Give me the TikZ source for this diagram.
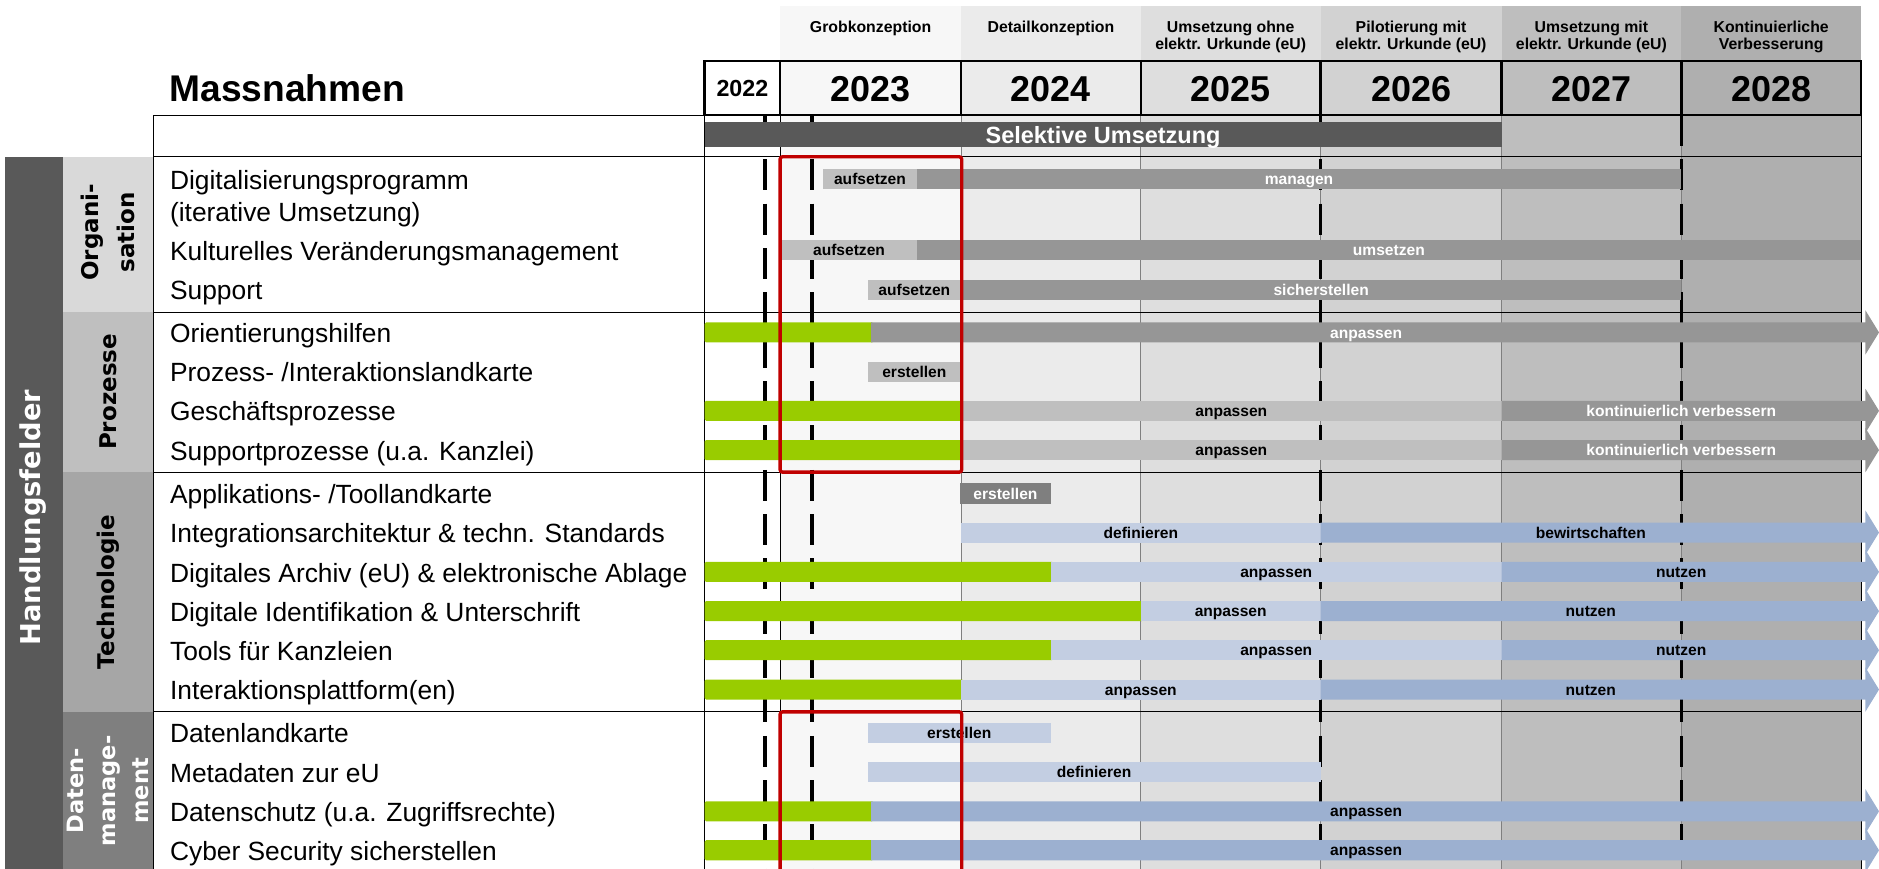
\documentclass[tikz,border=0pt]{standalone}
\usepackage{fontspec}
\setmainfont{Liberation Sans}
\newfontfamily\dvs{DejaVu Sans}
\definecolor{cA}{HTML}{F7F7F7}
\definecolor{cB}{HTML}{EBEBEB}
\definecolor{cC}{HTML}{DEDEDE}
\definecolor{cD}{HTML}{D2D2D2}
\definecolor{cE}{HTML}{BEBEBE}
\definecolor{cF}{HTML}{AFAFAF}
\definecolor{dark}{HTML}{595959}
\definecolor{lgray}{HTML}{BFBFBF}
\definecolor{mgray}{HTML}{969696}
\definecolor{dgray}{HTML}{7F7F7F}
\definecolor{lblue}{HTML}{C3CEE2}
\definecolor{mblue}{HTML}{9CB0D0}
\definecolor{grn}{HTML}{99CC00}
\definecolor{redb}{HTML}{C00000}
\definecolor{secA}{HTML}{D9D9D9}
\definecolor{secB}{HTML}{BFBFBF}
\definecolor{secC}{HTML}{A6A6A6}
\definecolor{secD}{HTML}{7F7F7F}
\newcommand\barseg[7]{%
  \fill[#5] (#2,#4-8.35) rectangle (#3,#4+8.35);
  \node[lab, text=#6] (#1) at ({(#2+#3)/2},#4+4.7) {#7};}
\newcommand\grnseg[3]{%
  \fill[grn, rounded corners=0.6pt] (#1,#3-8.35) rectangle (#2,#3+8.35);}
\newcommand\arrseg[6]{%
  \fill[#4] (#2,#3-8.35) -- (1556.7,#3-8.35) -- (1556.7,#3-18.4) -- (1568,#3) -- (1556.7,#3+18.4) -- (1556.7,#3+8.35) -- (#2,#3+8.35) -- cycle;
  \node[lab, text=#5] (#1) at ({(#2+1553)/2},#3+4.7) {#6};}
\begin{document}
\begin{tikzpicture}[x=0.5pt,y=-0.5pt,
  rowtxt/.style={anchor=base west, inner sep=0, font=\fontsize{11}{13}\selectfont},
  lab/.style={anchor=base, inner sep=0, font=\bfseries\fontsize{6.5}{7}\selectfont},
  phase/.style={anchor=base, inner sep=0, font=\bfseries\fontsize{6.6}{7}\selectfont},
  year/.style={anchor=base, inner sep=0, font=\bfseries\fontsize{15}{18}\selectfont},
  sec/.style={rotate=90, align=center, inner sep=0, font=\dvs\bfseries\fontsize{9.6}{15}\selectfont},
  thin/.style={line width=0.45pt},
  thick/.style={line width=1.1pt},
  dashline/.style={line width=1.4pt, dash pattern=on 12.9pt off 5.6pt},
  redbox/.style={draw=redb, line width=1.4pt, rounded corners=1pt}]
\useasboundingbox (0,0) rectangle (1568,725);
% column backgrounds
\fill[cA] (651,5) rectangle (802,725);
\fill[cB] (802,5) rectangle (952,725);
\fill[cC] (952,5) rectangle (1102,725);
\fill[cD] (1102,5) rectangle (1253,725);
\fill[cE] (1253,5) rectangle (1403,725);
\fill[cF] (1403,5) rectangle (1553,725);
% left labels column
\fill[dark] (4.2,130.8) rectangle (52.3,725);
\fill[secA] (52.3,130.8) rectangle (128,260.5);
\fill[secB] (52.3,260.5) rectangle (128,394);
\fill[secC] (52.3,394) rectangle (128,594);
\fill[secD] (52.3,594) rectangle (128,725);
% vertical grid lines
\draw[thin, dgray] (802,96) -- (802,725);
\draw[thin, dgray] (952,96) -- (952,725);
\draw[thin, dgray] (1102,96) -- (1102,725);
\draw[thin, dgray] (1253,96) -- (1253,725);
\draw[thin, dgray] (1403,96) -- (1403,725);
\draw[thin] (651,96) -- (651,725);
\draw[thin] (588,96) -- (588,725);
\draw[thin] (128,96) -- (128,725);
\draw[thin] (1553,96) -- (1553,725);
% horizontal lines
\draw[thin] (128,96) -- (588,96);
\draw[thin] (128,130.8) -- (1553,130.8);
\draw[thin] (128,260.5) -- (1553,260.5);
\draw[thin] (128,394) -- (1553,394);
\draw[thin] (128,594) -- (1553,594);
% dashed milestone lines
\draw[dashline] (638.5,96) -- (638.5,725);
\draw[dashline] (677.5,96) -- (677.5,725);
\draw[dashline] (1102,96) -- (1102,725);
\draw[dashline] (1403,96) -- (1403,725);
% year row
\fill[white] (588,51) rectangle (651,96);
\draw[thick] (588,51) rectangle (1553,96);
\foreach \xx in {651,802,952,1102,1253,1403} \draw[thick] (\xx,51) -- (\xx,96);
% selective bar
\fill[dark] (588,101.6) rectangle (1253,122.4);
\node[anchor=base, inner sep=0, text=white, font=\bfseries\fontsize{9.8}{11}\selectfont] (sel) at (920.5,119.4) {Selektive Umsetzung};
% header texts
\node[anchor=base west, inner sep=0, font=\bfseries\fontsize{15.5}{18}\selectfont] (mass) at (141,84.9) {Massnahmen};
\node[anchor=base, inner sep=0, font=\bfseries\fontsize{9.7}{11}\selectfont] (y22) at (619.5,80.7) {2022};
\node[year] (y23) at (726.5,84.9) {2023};
\node[year] (y24) at (877,84.9) {2024};
\node[year] (y25) at (1027,84.9) {2025};
\node[year] (y26) at (1177.5,84.9) {2026};
\node[year] (y27) at (1328,84.9) {2027};
\node[year] (y28) at (1478,84.9) {2028};
\node[phase] (p23) at (726.5,27.3) {Grobkonzeption};
\node[phase] (p24) at (877,27.3) {Detailkonzeption};
\node[phase] (p25a) at (1027,27.3) {Umsetzung ohne};
\node[phase] (p25b) at (1027,41.2) {elektr. Urkunde (eU)};
\node[phase] (p26a) at (1177.5,27.3) {Pilotierung mit};
\node[phase] (p26b) at (1177.5,41.2) {elektr. Urkunde (eU)};
\node[phase] (p27a) at (1328,27.3) {Umsetzung mit};
\node[phase] (p27b) at (1328,41.2) {elektr. Urkunde (eU)};
\node[phase] (p28a) at (1478,27.3) {Kontinuierliche};
\node[phase] (p28b) at (1478,41.2) {Verbesserung};
% section labels
\node[text=white, rotate=90, inner sep=0, font=\dvs\bfseries\fontsize{11.4}{13}\selectfont] (hf) at (28,432) {Handlungsfelder};
\node[sec] (sorg) at (90,194) {Organi-\\sation};
\node[sec] (spro) at (90,327) {Prozesse};
\node[sec] (stec) at (90,494) {Technologie};
\node[sec, text=white, font=\dvs\bfseries\fontsize{9.4}{13.5}\selectfont] (sdat) at (90,660) {Daten-\\manage-\\ment};
% row texts
\node[rowtxt] (t1) at (141.5,158) {Digitalisierungsprogramm};
\node[rowtxt] (t1b) at (141.5,184.8) {(iterative Umsetzung)};
\node[rowtxt] (t2) at (141.5,217.2) {Kulturelles Veränderungsmanagement};
\node[rowtxt] (t3) at (141.5,250.3) {Support};
\node[rowtxt] (t4) at (141.5,285.9) {Orientierungshilfen};
\node[rowtxt] (t5) at (141.5,318.7) {Prozess- /Interaktionslandkarte};
\node[rowtxt] (t6) at (141.5,351.3) {Geschäftsprozesse};
\node[rowtxt] (t7) at (141.5,384.1) {Supportprozesse (u.a. Kanzlei)};
\node[rowtxt] (t8) at (141.5,420.3) {Applikations- /Toollandkarte};
\node[rowtxt] (t9) at (141.5,452.9) {Integrationsarchitektur \& techn. Standards};
\node[rowtxt] (t10) at (141.5,485.7) {Digitales Archiv (eU) \& elektronische Ablage};
\node[rowtxt] (t11) at (141.5,518.5) {Digitale Identifikation \& Unterschrift};
\node[rowtxt] (t12) at (141.5,551.1) {Tools für Kanzleien};
\node[rowtxt] (t13) at (141.5,583.9) {Interaktionsplattform(en)};
\node[rowtxt] (t14) at (141.5,620) {Datenlandkarte};
\node[rowtxt] (t15) at (141.5,652.7) {Metadaten zur eU};
\node[rowtxt] (t16) at (141.5,685.5) {Datenschutz (u.a. Zugriffsrechte)};
\node[rowtxt] (t17) at (141.5,718) {Cyber Security sicherstellen};
% bars
\barseg{b1a}{687}{765}{149}{lgray}{black}{aufsetzen}
\barseg{b1b}{765}{1403}{149}{mgray}{white}{managen}
\barseg{b2a}{652}{765}{208.7}{lgray}{black}{aufsetzen}
\barseg{b2b}{765}{1553}{208.7}{mgray}{white}{umsetzen}
\barseg{b3a}{724}{802}{241.8}{lgray}{black}{aufsetzen}
\barseg{b3b}{802}{1403}{241.8}{mgray}{white}{sicherstellen}
\grnseg{588}{729}{277.4}
\arrseg{b4}{727}{277.4}{mgray}{white}{anpassen}
\barseg{b5}{724}{802}{310.2}{lgray}{black}{erstellen}
\grnseg{588}{804}{342.8}
\barseg{b6a}{802}{1253}{342.8}{lgray}{black}{anpassen}
\arrseg{b6b}{1253}{342.8}{mgray}{white}{kontinuierlich verbessern}
\grnseg{588}{804}{375.6}
\barseg{b7a}{802}{1253}{375.6}{lgray}{black}{anpassen}
\arrseg{b7b}{1253}{375.6}{mgray}{white}{kontinuierlich verbessern}
\barseg{b8}{801}{877}{411.8}{dgray}{white}{erstellen}
\barseg{b9a}{802}{1102}{444.4}{lblue}{black}{definieren}
\arrseg{b9b}{1102}{444.4}{mblue}{black}{bewirtschaften}
\grnseg{588}{879}{477.2}
\barseg{b10a}{877}{1253}{477.2}{lblue}{black}{anpassen}
\arrseg{b10b}{1253}{477.2}{mblue}{black}{nutzen}
\grnseg{588}{954}{510}
\barseg{b11a}{952}{1102}{510}{lblue}{black}{anpassen}
\arrseg{b11b}{1102}{510}{mblue}{black}{nutzen}
\grnseg{588}{879}{542.6}
\barseg{b12a}{877}{1253}{542.6}{lblue}{black}{anpassen}
\arrseg{b12b}{1253}{542.6}{mblue}{black}{nutzen}
\grnseg{588}{804}{575.4}
\barseg{b13a}{802}{1102}{575.4}{lblue}{black}{anpassen}
\arrseg{b13b}{1102}{575.4}{mblue}{black}{nutzen}
\barseg{b14}{724}{877}{611.5}{lblue}{black}{erstellen}
\barseg{b15}{724}{1102}{644.2}{lblue}{black}{definieren}
\grnseg{588}{729}{677}
\arrseg{b16}{727}{677}{mblue}{black}{anpassen}
\grnseg{588}{729}{709.5}
\arrseg{b17}{727}{709.5}{mblue}{black}{anpassen}
% red boxes
\draw[redbox] (651,130.8) rectangle (802.5,394);
\draw[redbox] (651,594) rectangle (802.5,745);
\end{tikzpicture}
\end{document}
